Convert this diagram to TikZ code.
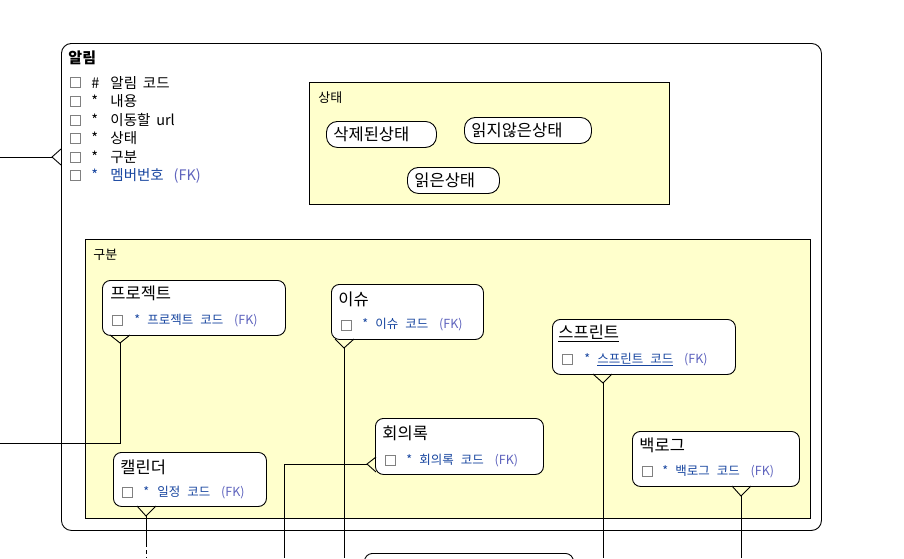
\documentclass[tikz,border=0pt]{standalone}
\usepackage{fontspec}
\setmainfont{Noto Sans CJK KR}
\usetikzlibrary{positioning}
\definecolor{fkblue}{RGB}{24,70,160}
\definecolor{fklight}{RGB}{95,100,190}
\definecolor{areayellow}{RGB}{255,255,204}
\newcommand\attrfont{\fontsize{12.5}{13}\selectfont\spaceskip=0.55em\relax}
\newcommand\itemfont{\fontsize{14.5}{15}\selectfont\spaceskip=0.4em\relax}
\newcommand\fk{\hspace{4pt}{\color{fklight}(FK)}}

\begin{document}
\begin{tikzpicture}[x=1pt, y=-1pt, line width=0.9pt,
    box/.style={draw, anchor=north west, inner sep=0pt},
    area/.style={box, fill=areayellow},
    entity/.style={box, fill=white, rounded corners=8pt},
    pill/.style={box, fill=white, rounded corners=11pt, minimum height=26},
    chk/.style={draw=black!50, line width=0.8pt, minimum size=10, inner sep=0pt},
    areaname/.style={anchor=west, inner sep=0pt, font=\fontsize{13}{13}\selectfont},
    pilltext/.style={anchor=west, inner sep=0pt, font=\fontsize{16.5}{17}\selectfont},
    enttitle/.style={anchor=west, inner sep=0pt, font=\fontsize{16.5}{17}\selectfont},
    entattr/.style={anchor=west, inner sep=0pt, text=fkblue, font=\attrfont},
    listitem/.style={anchor=west, inner sep=0pt, font=\itemfont}]
    \clip (0,0) rectangle (904,558);
    \fill[white] (0,0) rectangle (904,558);

    % 알림
    \node [entity, rounded corners=10pt, minimum width=760, minimum height=487] (alarm) at (61,43) {};
    \node [anchor=west, inner sep=0pt, font=\bfseries\fontsize{15}{15}\selectfont] (alarmtitle) at (68,58) {알림};
    \node [chk] (chka) at (75,82.5) {};
    \node [chk] (chkb) at (75,101) {};
    \node [chk] (chkc) at (75,120) {};
    \node [chk] (chkd) at (75,138.5) {};
    \node [chk] (chke) at (75,157) {};
    \node [chk] (chkf) at (75,175.5) {};
    \node [listitem] (itema) at (91,82.5) {\makebox[19pt][l]{\#}알림 코드};
    \node [listitem] (itemb) at (91,101) {\makebox[19pt][l]{*}내용};
    \node [listitem] (itemc) at (91,120) {\makebox[19pt][l]{*}이동할 url};
    \node [listitem] (itemd) at (91,138.5) {\makebox[19pt][l]{*}상태};
    \node [listitem] (iteme) at (91,157) {\makebox[19pt][l]{*}구분};
    \node [listitem, text=fkblue] (itemf) at (91,175.5) {\makebox[19pt][l]{*}멤버번호 \fk};

    % 상태
    \node [area, minimum width=360, minimum height=122] (state) at (309,82) {};
    \node [areaname] (statename) at (318,98) {상태};
    \node [pill, minimum width=110] (deleted) at (326,121) {};
    \node [pilltext] at (333,134.5) {삭제된상태};
    \node [pill, minimum width=127] (unread) at (464,117) {};
    \node [pilltext] at (471,130.5) {읽지않은상태};
    \node [pill, minimum width=92] (read) at (407,167) {};
    \node [pilltext] at (414,180.5) {읽은상태};

    % 구분
    \node [area, minimum width=725, minimum height=279] (kind) at (85,239) {};
    \node [areaname] (kindname) at (93,255) {구분};

    \node [entity, minimum width=183, minimum height=55] (pj) at (102,280) {};
    \node [enttitle] (pjtitle) at (110,293.5) {프로젝트};
    \node [chk] (pjchk) at (117.5,320.5) {};
    \node [entattr] (pjattr) at (134,320.5) {\makebox[13pt][l]{*}프로젝트 코드 \fk};

    \node [entity, minimum width=152, minimum height=55] (is) at (331,284) {};
    \node [enttitle] (istitle) at (338,299) {이슈};
    \node [chk] (ischk) at (346,325) {};
    \node [entattr] (isattr) at (362,325) {\makebox[13pt][l]{*}이슈 코드 \fk};

    \node [entity, minimum width=183, minimum height=55] (sp) at (552,319) {};
    \node [enttitle] (sptitle) at (558,333) {\underline{스프린트}};
    \node [chk] (spchk) at (567,359.5) {};
    \node [entattr] (spattr) at (584,359.5) {\makebox[13pt][l]{*}\underline{스프린트 코드} \fk};

    \node [entity, minimum width=168, minimum height=56] (mt) at (375,418) {};
    \node [enttitle] (mttitle) at (382,433) {회의록};
    \node [chk] (mtchk) at (390,460.5) {};
    \node [entattr] (mtattr) at (406,460.5) {\makebox[13pt][l]{*}회의록 코드 \fk};

    \node [entity, minimum width=167, minimum height=55] (bl) at (632,431) {};
    \node [enttitle] (bltitle) at (639,445) {백로그};
    \node [chk] (blchk) at (647,471.5) {};
    \node [entattr] (blattr) at (662,471.5) {\makebox[13pt][l]{*}백로그 코드 \fk};

    \node [entity, minimum width=153, minimum height=54] (cal) at (113,452) {};
    \node [enttitle] (caltitle) at (120,467) {캘린더};
    \node [chk] (calchk) at (127.5,492.5) {};
    \node [entattr] (calattr) at (143,492.5) {\makebox[14pt][l]{*}일정 코드 \fk};

    \node [entity, minimum width=209, minimum height=55] (next) at (364,553) {};

    % connectors
    \coordinate (alarmapex) at (52,157);
    \coordinate (alarmend) at (0,157);
    \draw (61,149) -- (alarmapex) -- (61,165);
    \draw (alarmend) -- (alarmapex);

    \coordinate (pjapex) at (120,343);
    \coordinate (pjend) at (0,443);
    \draw (110,335) -- (pjapex) -- (130,335);
    \draw (pjapex) |- (pjend);

    \coordinate (isapex) at (344,348);
    \coordinate (isend) at (344,558);
    \draw (335,339) -- (isapex) -- (354,339);
    \draw (isapex) -- (isend);

    \coordinate (spapex) at (603,383);
    \coordinate (spend) at (603,558);
    \draw (593,374) -- (spapex) -- (612,374);
    \draw (spapex) -- (spend);

    \coordinate (blapex) at (741,496);
    \coordinate (blend) at (741,558);
    \draw (732,486) -- (blapex) -- (751,486);
    \draw (blapex) -- (blend);

    \coordinate (mtapex) at (367,464);
    \coordinate (mtend) at (284,558);
    \draw (376,457) -- (mtapex) -- (376,472);
    \draw (mtapex) -| (mtend);

    \coordinate (calapex) at (146,516);
    \coordinate (calmid) at (146,543);
    \coordinate (calend) at (146,558);
    \draw (137,506) -- (calapex) -- (156,506);
    \draw (calapex) -- (calmid);
    \draw [dashed, dash pattern=on 4pt off 3pt] (calmid) -- (calend);
\end{tikzpicture}
\end{document}
